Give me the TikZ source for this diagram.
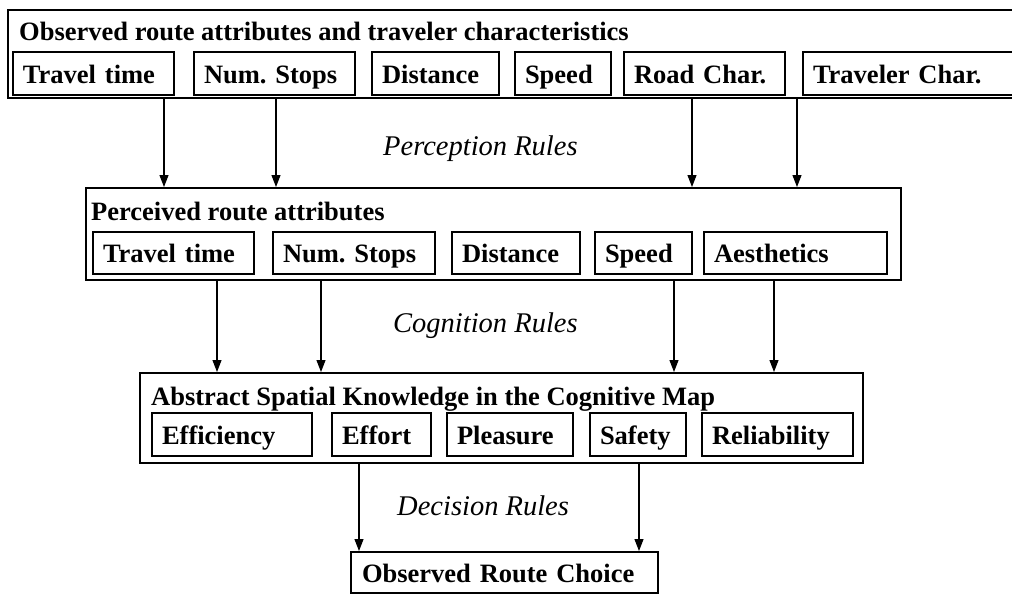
\documentclass[tikz,border=0pt]{standalone}
\usepackage{fontspec}
\setmainfont{Liberation Serif}
\usetikzlibrary{arrows.meta}
\begin{document}
\begin{tikzpicture}[x=1pt,y=-1pt,
  obox/.style={draw,line width=2pt,inner sep=0pt,rectangle},
  ibox/.style={draw,line width=1.2pt,rectangle,inner xsep=10pt,inner ysep=0pt,align=left,
    text height=19pt,text depth=0pt,
    font=\fontsize{26.5}{30}\selectfont\bfseries\frenchspacing},
  ttl/.style={anchor=base west,inner sep=0pt,font=\fontsize{26.5}{30}\selectfont\bfseries},
  rule/.style={anchor=base west,inner sep=0pt,font=\fontsize{28.5}{32}\selectfont\itshape},
  arr/.style={line width=1.1pt,-{Triangle[length=12pt,width=9pt]}}]
\useasboundingbox (0,0) rectangle (1012,595);
% top box
\node[obox,minimum width=1008,minimum height=88] (obs) at (512,54) {};
\node[ttl] (obst) at (19,40) {Observed route attributes and traveler characteristics};
\node[ibox,text width=141,minimum height=43] (o1) at (93.5,73.5) {Travel time};
\node[ibox,text width=141,minimum height=43] (o2) at (274.5,73.5) {Num. Stops};
\node[ibox,text width=107,minimum height=43] (o3) at (435.5,73.5) {Distance};
\node[ibox,text width=76,minimum height=43] (o4) at (563,73.5) {Speed};
\node[ibox,text width=141,minimum height=43] (o5) at (704.5,73.5) {Road Char.};
\node[ibox,text width=191,minimum height=43] (o6) at (908.5,73.5) {Traveler Char.};
% middle box
\node[obox,minimum width=815,minimum height=92] (perc) at (493.5,234) {};
\node[ttl] (perct) at (91,220) {Perceived route attributes};
\node[ibox,text width=141,minimum height=42] (p1) at (173.5,253) {Travel time};
\node[ibox,text width=142,minimum height=42] (p2) at (354,253) {Num. Stops};
\node[ibox,text width=108,minimum height=42] (p3) at (516,253) {Distance};
\node[ibox,text width=77,minimum height=42] (p4) at (643.5,253) {Speed};
\node[ibox,text width=163,minimum height=42] (p5) at (795.5,253) {Aesthetics};
% abstract box
\node[obox,minimum width=723,minimum height=90] (abs) at (501.5,418) {};
\node[ttl] (abst) at (151,405) {Abstract Spatial Knowledge in the Cognitive Map};
\node[ibox,text width=140,minimum height=43] (a1) at (232,434.5) {Efficiency};
\node[ibox,text width=79,minimum height=43] (a2) at (381.5,434.5) {Effort};
\node[ibox,text width=106,minimum height=43] (a3) at (510,434.5) {Pleasure};
\node[ibox,text width=76,minimum height=43] (a4) at (638,434.5) {Safety};
\node[ibox,text width=131,minimum height=43] (a5) at (777.5,434.5) {Reliability};
% choice
\node[ibox,line width=2pt,text width=285,inner xsep=11pt,minimum height=41] (choice) at (504.5,572.5) {Observed Route Choice};
% rule labels
\node[rule] (pr) at (383,155) {Perception Rules};
\node[rule] (cr) at (393,332) {Cognition Rules};
\node[rule] (dr) at (397,515) {Decision Rules};
% arrows
\foreach \x in {164,276,692,797} \draw[arr] (obs.south -| \x,0) -- (perc.north -| \x,0);
\foreach \x in {217,321,674,774} \draw[arr] (perc.south -| \x,0) -- (abs.north -| \x,0);
\foreach \x in {359,639} \draw[arr] (abs.south -| \x,0) -- (choice.north -| \x,0);
\end{tikzpicture}
\end{document}
